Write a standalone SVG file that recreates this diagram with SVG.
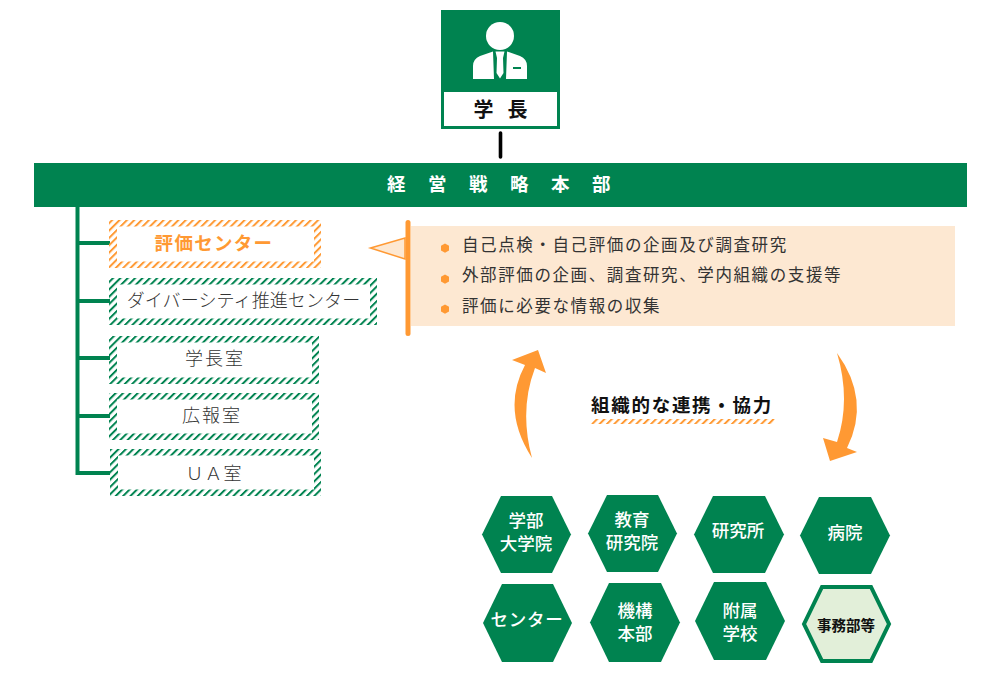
<svg xmlns="http://www.w3.org/2000/svg" width="1000" height="692" viewBox="0 0 1000 692">
<style>
text{font-family:"Noto Sans CJK JP","Noto Sans",sans-serif;text-anchor:middle}
.hex{fill:#008350}
.ht{fill:#fff;font-size:17.500px;font-weight:500}
.box{font-size:18px;font-weight:300;fill:#333}
.li{font-size:16.500px;letter-spacing:1.600px;fill:#333;font-weight:400;text-anchor:start}
.bul{fill:#ff9933}
.br{stroke:#008350;stroke-width:4;fill:none}
</style>
<defs>
<pattern id="hg" width="5.200" height="8" patternUnits="userSpaceOnUse" patternTransform="rotate(45)"><rect width="2" height="8" fill="#008350"/></pattern>
<pattern id="ho" width="5.200" height="8" patternUnits="userSpaceOnUse" patternTransform="rotate(45)"><rect width="2" height="8" fill="#ff9933"/></pattern>
</defs>
<g id="connectors">
<path d="M500.500 133V157" stroke="#000" stroke-width="3.600" stroke-linecap="round" fill="none"/>
<path class="br" d="M77.500 207V473H110M77.500 243H110M77.500 301H110M77.500 358H110M77.500 416H110"/>
</g>
<g id="president">
<rect x="441" y="10" width="119" height="119" fill="#008350"/>
<rect x="444" y="92" width="113" height="34" fill="#fff"/>
<circle cx="500" cy="36" r="14" fill="#fff"/>
<path d="M473 79V66Q473 59 480 56L493 51.500L494 79ZM507 51.500L520 56Q527 59 527 66V79H506Z" fill="#fff"/>
<path d="M495.500 51.500H504.500L503 58L503.500 73L500 78.500L496.500 73L497 58Z" fill="#fff"/>
<rect x="513" y="67" width="8" height="2" fill="#008350"/>
<text x="507.500" y="117" font-size="20" font-weight="700" letter-spacing="14" fill="#111">学長</text>
</g>
<g id="hq">
<rect x="34" y="163" width="933" height="44" fill="#008350"/>
<text x="510" y="191" font-size="18.500" font-weight="700" letter-spacing="22.500" fill="#fff">経営戦略本部</text>
</g>
<g id="eval-center">
<path fill="url(#ho)" fill-rule="evenodd" d="M109 220H321V268H109ZM117 226.500V261.500H314V226.500Z"/>
<text x="214" y="250" font-size="18.500" font-weight="700" fill="#ff9933" letter-spacing="1.300">評価センター</text>
</g>
<g id="diversity">
<path fill="url(#hg)" fill-rule="evenodd" d="M109 278H377V325H109ZM117 284.500V318.500H370V284.500Z"/>
<text x="243.500" y="307" class="box" letter-spacing=".1">ダイバーシティ推進センター</text>
</g>
<g id="president-office">
<path fill="url(#hg)" fill-rule="evenodd" d="M109 336H319V384H109ZM117 342.500V377.500H312V342.500Z"/>
<text x="215" y="365" class="box" letter-spacing="2">学長室</text>
</g>
<g id="pr-office">
<path fill="url(#hg)" fill-rule="evenodd" d="M109 393H319V440H109ZM117 399.500V433.500H312V399.500Z"/>
<text x="212" y="422" class="box" letter-spacing="2">広報室</text>
</g>
<g id="ua-office">
<path fill="url(#hg)" fill-rule="evenodd" d="M110 449H321V496H110ZM118 455.500V489.500H314V455.500Z"/>
<text x="214" y="480" class="box" letter-spacing="1">ＵＡ室</text>
</g>
<g id="duties">
<rect x="411" y="226" width="544" height="100" fill="#fde8d2"/>
<path d="M370.500 248L405 238V259Z" fill="#fde8d2" stroke="#ff9933" stroke-width="1.500"/>
<rect x="405.500" y="220" width="5" height="116" rx="2.500" fill="#ff9933"/>
<path class="bul" d="M445 243.500L449 245.800V250.400L445 252.700L441 250.400V245.800Z"/>
<path class="bul" d="M445 274.500L449 276.800V281.400L445 283.700L441 281.400V276.800Z"/>
<path class="bul" d="M445 304.500L449 306.800V311.400L445 313.700L441 311.400V306.800Z"/>
<text class="li" x="462" y="251">自己点検・自己評価の企画及び調査研究</text>
<text class="li" x="462" y="281">外部評価の企画、調査研究、学内組織の支援等</text>
<text class="li" x="462" y="312">評価に必要な情報の収集</text>
</g>
<g id="cooperation">
<path fill="#ff9933" d="M532 458Q501 410 525 365L512 360L538 350L546 373L535 368Q519 410 532 458Z"/>
<path fill="#ff9933" d="M837 353Q871 400 847 448L857 452L830 461L823 438L837 442Q851 400 837 353Z"/>
<text x="682" y="412" font-size="18.500" font-weight="700" letter-spacing="1.700" fill="#111">組織的な連携・協力</text>
<path d="M591 424L594 419H775L772 424Z" fill="url(#ho)"/>
</g>
<g id="hex-faculty"><polygon class="hex" points="482,534.500 501,496 552,496 571,534.500 552,573 501,573"/><text class="ht" x="526" y="526.500">学部</text><text class="ht" x="526" y="549.500">大学院</text></g>
<g id="hex-education"><polygon class="hex" points="588,533.500 607,495 658,495 677,533.500 658,572 607,572"/><text class="ht" x="632" y="526">教育</text><text class="ht" x="632" y="549">研究院</text></g>
<g id="hex-institute"><polygon class="hex" points="694,534.500 713,496 765,496 784,534.500 765,573 713,573"/><text class="ht" x="738" y="537">研究所</text></g>
<g id="hex-hospital"><polygon class="hex" points="800,535.500 819,497 871,497 890,535.500 871,574 819,574"/><text class="ht" x="845" y="539">病院</text></g>
<g id="hex-center"><polygon class="hex" points="483,623 502,584 553,584 572,623 553,662 502,662"/><text class="ht" x="527" y="626" font-weight="700" letter-spacing=".8">センター</text></g>
<g id="hex-org"><polygon class="hex" points="590,622.500 609,583 661,583 680,622.500 661,662 609,662"/><text class="ht" x="635" y="617">機構</text><text class="ht" x="635" y="640">本部</text></g>
<g id="hex-school"><polygon class="hex" points="695,621 714,582 766,582 785,621 766,660 714,660"/><text class="ht" x="740" y="617">附属</text><text class="ht" x="740" y="640">学校</text></g>
<g id="hex-office"><polygon points="804,624 822,587 871,587 889,624 871,661 822,661" fill="#e2efd9" stroke="#008350" stroke-width="4"/><text x="846" y="631" font-size="14.500" font-weight="700" fill="#111">事務部等</text></g>
</svg>
